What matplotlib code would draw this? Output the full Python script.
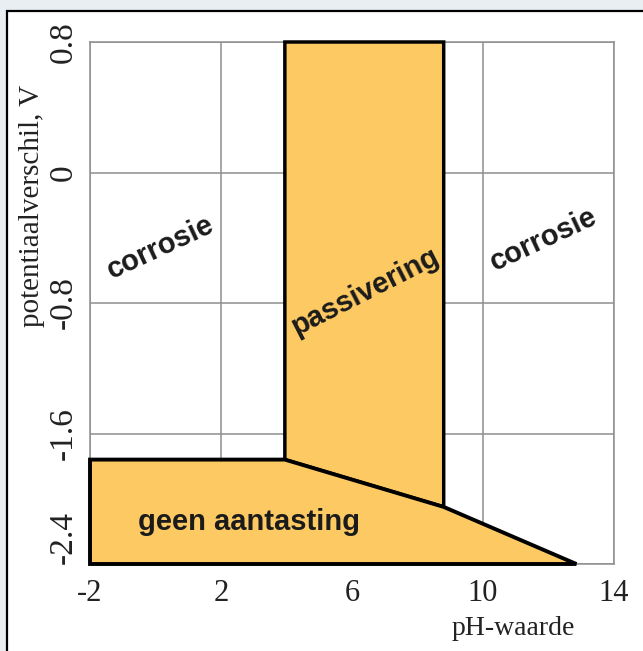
import matplotlib
matplotlib.use("Agg")
import matplotlib.pyplot as plt
from matplotlib.patches import Polygon, Rectangle

# Pourbaix-like diagram data (pH, potential in V)
passive_ph = [3.95, 8.8, 8.8, 3.95]
passive_v = [0.8, 0.8, -2.05, -1.76]

immune_ph = [-2, -2, 3.95, 8.8, 12.85]
immune_v = [-2.4, -1.76, -1.76, -2.05, -2.4]

x_ticks = [-2, 2, 6, 10, 14]
x_labels = ["-2", "2", "6", "10", "14"]
y_ticks = [0.8, 0, -0.8, -1.6, -2.4]
y_labels = ["0.8", "0", "-0.8", "-1.6", "-2.4"]

region_labels = ["corrosie", "passivering", "corrosie", "geen aantasting"]
region_x = [0.15, 6.4, 11.85, 2.86]
region_y = [-0.46, -0.73, -0.41, -2.14]
region_rot = [25, 27, 25, 0]

fill_color = "#FDC963"
grid_color = "#8e8e8e"
serif = ["Liberation Serif", "DejaVu Serif"]
sans = ["Liberation Sans", "DejaVu Sans"]

fig = plt.figure(figsize=(6.43, 6.51), dpi=100)
fig.patch.set_facecolor("#e9eef2")
# white panel with black frame
frame = Rectangle((7 / 643, -0.05), 1.2, (651 - 11) / 651 + 0.05,
                  transform=fig.transFigure, facecolor="white",
                  edgecolor="black", linewidth=1.6, zorder=-10)
fig.patches.append(frame)

ax = fig.add_axes([90 / 643, (651 - 564) / 651, 524 / 643, 522 / 651])
ax.set_zorder(1)
ax.set_facecolor("white")
ax.set_xlim(-2, 14)
ax.set_ylim(-2.4, 0.8)

ax.set_xticks(x_ticks)
ax.set_xticklabels(x_labels, fontfamily=serif, fontsize=22, color="#222222")
ax.set_yticks(y_ticks)
ax.set_yticklabels(y_labels, fontfamily=serif, fontsize=24, color="#222222",
                   rotation=90, va="center")
ax.tick_params(length=0, pad=8)
ax.tick_params(axis="x", pad=11)
# shift the lowest y label up
ylbls = ax.get_yticklabels()
ylbls[-1].set_va("bottom")

ax.grid(True, color=grid_color, linewidth=1.1)
ax.set_axisbelow(True)
for s in ax.spines.values():
    s.set_color(grid_color)
    s.set_linewidth(1.1)

ax.add_patch(Polygon(list(zip(passive_ph, passive_v)), closed=True,
                     facecolor=fill_color, edgecolor="black", linewidth=2.5,
                     zorder=3, clip_on=False))
ax.add_patch(Polygon(list(zip(immune_ph, immune_v)), closed=True,
                     facecolor=fill_color, edgecolor="black", linewidth=2.8,
                     zorder=4, clip_on=False, joinstyle="miter"))

for t, x, y, r in zip(region_labels, region_x, region_y, region_rot):
    ax.text(x, y, t, rotation=r, ha="center", va="center",
            fontfamily=sans, fontweight="bold", fontsize=21,
            color="#1b1b1b", zorder=5, rotation_mode="anchor")

ax.set_xlabel("pH-waarde", fontfamily=serif, fontsize=20, color="#222222",
              ha="right", va="top")
ax.xaxis.set_label_coords(485 / 524, -0.1)
ax.set_ylabel("potentiaalverschil, V", fontfamily=serif, fontsize=21,
              color="#222222", va="bottom", ha="center")
ax.yaxis.set_label_coords(-0.085, 0.685)

fig.savefig("out.png", dpi=100, facecolor=fig.get_facecolor())
